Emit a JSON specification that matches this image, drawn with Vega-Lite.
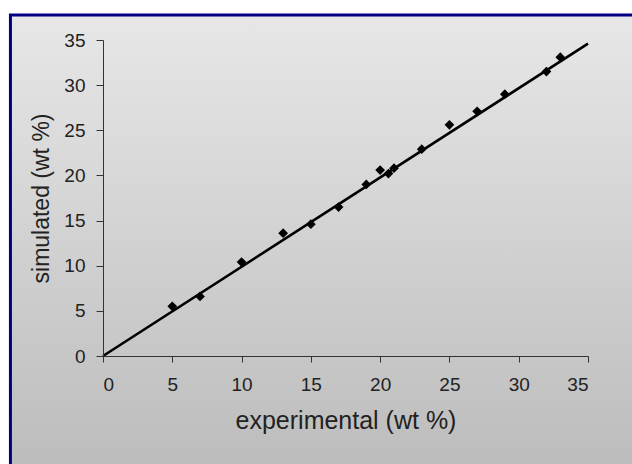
{
  "$schema": "https://vega.github.io/schema/vega-lite/v6.json",
  "autosize": {"type": "none"},
  "width": 485,
  "height": 316,
  "padding": {"left": 103, "top": 40, "right": 44, "bottom": 108},
  "background": "white",
  "config": {
    "view": {"stroke": null},
    "font": "Liberation Sans",
    "axis": {
      "grid": false,
      "domainColor": "#333333",
      "tickColor": "#333333",
      "labelColor": "#222222",
      "titleColor": "#222222",
      "labelFontSize": 19,
      "titleFontWeight": "normal"
    }
  },
  "datasets": {
    "pts": [
      {"experimental": 5, "simulated": 5.5},
      {"experimental": 7, "simulated": 6.6},
      {"experimental": 10, "simulated": 10.4},
      {"experimental": 13, "simulated": 13.6},
      {"experimental": 15, "simulated": 14.6},
      {"experimental": 17, "simulated": 16.5},
      {"experimental": 19, "simulated": 19.0},
      {"experimental": 20, "simulated": 20.6},
      {"experimental": 20.6, "simulated": 20.2},
      {"experimental": 21, "simulated": 20.8},
      {"experimental": 23, "simulated": 22.9},
      {"experimental": 25, "simulated": 25.6},
      {"experimental": 27, "simulated": 27.1},
      {"experimental": 29, "simulated": 29.0},
      {"experimental": 32, "simulated": 31.5},
      {"experimental": 33, "simulated": 33.1}
    ],
    "fit": [
      {"experimental": 0, "simulated": 0},
      {"experimental": 35, "simulated": 34.6}
    ]
  },
  "layer": [
    {
      "data": {"values": [{"x0": -6.68, "x1": 42, "y0": 37.76, "y1": -16}]},
      "mark": {
        "type": "rect",
        "clip": false,
        "stroke": "#000080",
        "strokeWidth": 3,
        "fill": {
          "gradient": "linear",
          "x1": 0, "y1": 0, "x2": 0, "y2": 1,
          "stops": [
            {"offset": 0, "color": "#e7e7e7"},
            {"offset": 1, "color": "#b9b9b9"}
          ]
        }
      },
      "encoding": {
        "x": {
          "field": "x0", "type": "quantitative",
          "scale": {"domain": [0, 35], "nice": false},
          "axis": {
            "zindex": 2,
            "title": "experimental (wt %)",
            "values": [0, 5, 10, 15, 20, 25, 30, 35],
            "tickSize": 6,
            "labelPadding": 13,
            "titleFontSize": 25,
            "titlePadding": 14
          }
        },
        "x2": {"field": "x1"},
        "y": {
          "field": "y0", "type": "quantitative",
          "scale": {"domain": [0, 35], "nice": false},
          "axis": {
            "zindex": 2,
            "title": "simulated (wt %)",
            "values": [0, 5, 10, 15, 20, 25, 30, 35],
            "tickSize": 7,
            "labelPadding": 11,
            "titleFontSize": 23,
            "titlePadding": 10
          }
        },
        "y2": {"field": "y1"}
      }
    },
    {
      "data": {"name": "fit"},
      "mark": {"type": "line", "color": "black", "strokeWidth": 2.6},
      "encoding": {
        "x": {"field": "experimental", "type": "quantitative"},
        "y": {"field": "simulated", "type": "quantitative"}
      }
    },
    {
      "data": {"name": "pts"},
      "mark": {"type": "point", "shape": "diamond", "filled": true, "color": "black", "opacity": 1, "size": 95},
      "encoding": {
        "x": {"field": "experimental", "type": "quantitative"},
        "y": {"field": "simulated", "type": "quantitative"}
      }
    }
  ]
}
